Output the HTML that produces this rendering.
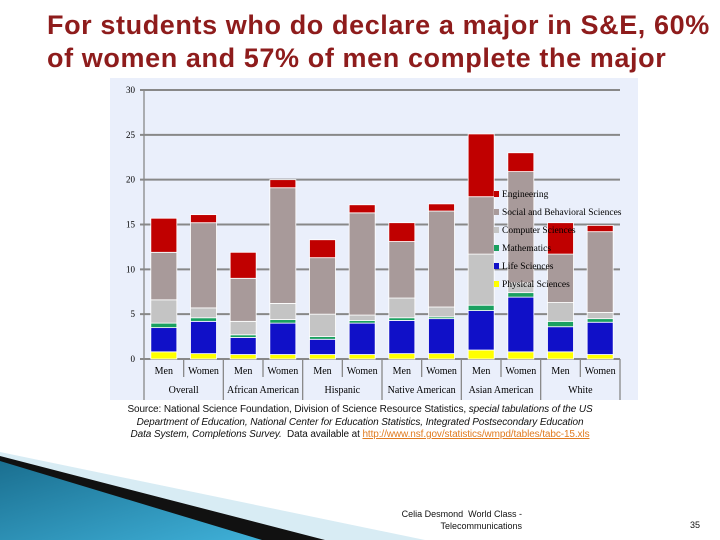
<!DOCTYPE html>
<html><head><meta charset="utf-8"><style>
body{margin:0;width:720px;height:540px;background:#fff;overflow:hidden;position:relative;font-family:"Liberation Sans",sans-serif}
.title{position:absolute;left:47px;top:9px;font-size:27px;font-weight:bold;line-height:33px;color:#8e1c1c;font-family:"Liberation Sans",sans-serif;white-space:nowrap;letter-spacing:0.6px}
.src{position:absolute;left:60px;top:404px;width:600px;text-align:center;font-size:10px;line-height:12.5px;color:#111;letter-spacing:-0.1px;white-space:nowrap}
.src a{color:#e07b20;text-decoration:underline}
.foot{position:absolute;left:386px;top:508px;font-size:9px;line-height:12px;color:#111;text-align:right;width:136px}
.pg{position:absolute;left:690px;top:520px;font-size:9px;color:#111}
</style></head><body>
<div class="title">For students who do declare a major in S&amp;E, 60%<br>of women and 57% of men complete the major</div>
<svg width="720" height="540" style="position:absolute;left:0;top:0">
<defs><linearGradient id="tg" x1="0" y1="0" x2="1" y2="1"><stop offset="0" stop-color="#1a6f90"/><stop offset="1" stop-color="#3fb0d8"/></linearGradient></defs>
<polygon points="0,452 425,540 0,540" fill="#d8ecf4"/>
<polygon points="0,456 325,540 0,540" fill="#111"/>
<polygon points="0,461 262,540 0,540" fill="url(#tg)"/>
<rect x="110" y="78" width="528" height="322" fill="#eaeffb"/>
<g id="g"></g>
</svg>
<div class="src">Source: National Science Foundation, Division of Science Resource Statistics, <i>special tabulations of the US</i><br><i>Department of Education, National Center for Education Statistics, Integrated Postsecondary Education</i><br><i>Data System, Completions Survey.</i>&nbsp; Data available at <a>http://www.nsf.gov/statistics/wmpd/tables/tabc-15.xls</a></div>
<div class="foot">Celia Desmond&nbsp; World Class -<br>Telecommunications</div>
<div class="pg">35</div>
<script>
const sexes=["Men","Women","Men","Women","Men","Women","Men","Women","Men","Women","Men","Women"];
const groups=["Overall","African American","Hispanic","Native American","Asian American","White"];
const physical=[0.8,0.6,0.5,0.5,0.5,0.5,0.6,0.6,1.0,0.8,0.8,0.5];
const life=[2.7,3.6,1.9,3.5,1.7,3.5,3.7,3.9,4.4,6.1,2.8,3.6];
const math=[0.5,0.4,0.3,0.4,0.3,0.3,0.3,0.2,0.6,0.5,0.6,0.4];
const cs=[2.6,1.1,1.5,1.8,2.5,0.6,2.2,1.1,5.7,1.1,2.1,0.7];
const social=[5.3,9.5,4.8,12.9,6.3,11.4,6.3,10.7,6.4,12.4,5.4,9.0];
const eng=[3.8,0.9,2.9,0.9,2.0,0.9,2.1,0.8,7.0,2.1,3.5,0.7];
const yTicks=[0,5,10,15,20,25,30];
const seriesNames=["Physical Sciences","Life Sciences","Mathematics","Computer Sciences","Social and Behavioral Sciences","Engineering"];
const series=[physical,life,math,cs,social,eng];
const colors=["#ffff00","#1010c8","#1aa060","#c4c4c4","#a89a9a","#c00000"];
const NS="http://www.w3.org/2000/svg",g=document.getElementById('g');
const X0=144,X1=620,Y0=359,Y1=90;
const y=v=>Y0-(v/30)*(Y0-Y1);
const slot=(X1-X0)/sexes.length;
const x=i=>X0+slot*(i+0.5);
function mk(t,a){const e=document.createElementNS(NS,t);for(const k in a)e.setAttribute(k,a[k]);g.appendChild(e);return e;}
yTicks.forEach(t=>{const l=mk('line',{x1:X0-4,x2:X1,y1:y(t),y2:y(t),stroke:'#888','stroke-width':2});


const tx=mk('text',{x:X0-9,y:y(t)+3,'text-anchor':'end','font-size':9,'font-family':'Liberation Serif,serif'});tx.textContent=t;

});
sexes.forEach((s,i)=>{let c=0;series.forEach((sr,k)=>{const v=sr[i];const r=mk('rect',{x:x(i)-13,y:y(c+v),width:26,height:y(c)-y(c+v),fill:colors[k],stroke:'#fff','stroke-width':0.8});


c+=v;});
const t=mk('text',{x:x(i),y:374,'text-anchor':'middle','font-size':10,'font-family':'Liberation Serif,serif'});t.textContent=s;

});
for(let i=0;i<=12;i++){const xx=X0+slot*i;const l=mk('line',{x1:xx,x2:xx,y1:Y0,y2:i%2==0?400:377,stroke:'#888','stroke-width':1.3});

}
mk('line',{x1:X0,x2:X0,y1:Y1,y2:Y0,stroke:'#888','stroke-width':1.3});
groups.forEach((gname,j)=>{const t=mk('text',{x:X0+slot*(2*j+1),y:393,'text-anchor':'middle','font-size':10,'font-family':'Liberation Serif,serif'});t.textContent=gname;

});
for(let k=5;k>=0;k--){const yy=197+(5-k)*18;const m=mk('rect',{x:494,y:yy-6,width:5,height:6,fill:colors[k]});


const t=mk('text',{x:502,y:yy,'font-size':9.5,'font-family':'Liberation Serif,serif'});t.textContent=seriesNames[k];

}
</script>
</body></html>
